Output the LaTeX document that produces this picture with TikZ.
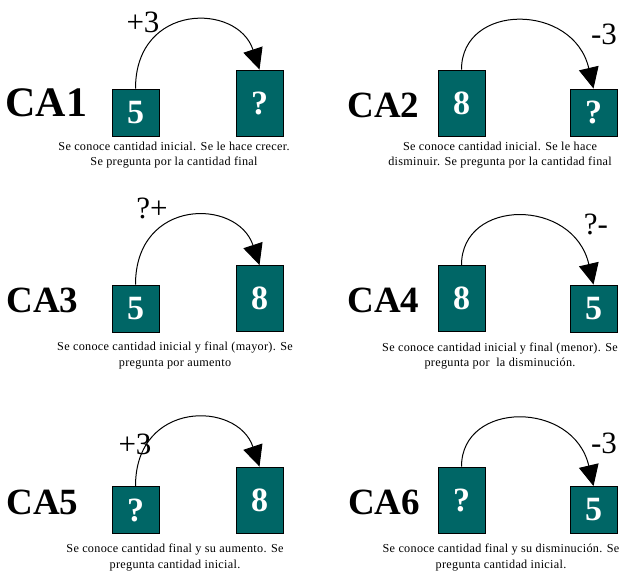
\documentclass[tikz,border=0pt]{standalone}
\usepackage{fontspec}
\setmainfont{Liberation Serif}
\newfontfamily\capfont[LetterSpace=2.5]{Liberation Serif}
\usetikzlibrary{arrows.meta,calc}
\definecolor{teal1}{RGB}{0,102,102}
\tikzset{
  sq/.style={draw=black, line width=0.9pt, fill=teal1, inner sep=0pt, minimum width=47pt, minimum height=47pt,
    text=white, font=\fontsize{34}{34}\selectfont\bfseries},
  tall/.style={sq, minimum height=66pt},
  calabel/.style={font=\fontsize{37}{37}\selectfont\bfseries, inner sep=0pt},
  oplabel/.style={font=\fontsize{31}{31}\selectfont, inner sep=0pt},
  caption/.style={font=\capfont\fontsize{12.2}{15.5}\selectfont, align=center, inner sep=0pt},
  jump/.style={line width=1pt, -{Triangle[length=21pt,width=20pt]}}
}
\begin{document}
\begin{tikzpicture}[x=1pt,y=-1pt]
\useasboundingbox (0,0) rectangle (621,571);
% CA1
\node[calabel, font=\fontsize{42}{42}\selectfont\bfseries] (l1) at (46.5,103) {CA1};
\node[sq] (a1) at (135.5,112.5) {5};
\node[tall] (b1) at (259.5,103) {?};
\node[oplabel] (o1) at (143,22) {+3};
\draw[jump] (a1.north) .. controls ($(a1.north)+(0,-86)$) and ($(b1.north)+(-22,-67)$) .. (b1.north);
\node[caption] (c1) at (174,155) {Se conoce cantidad inicial. Se le hace crecer.\\Se pregunta por la cantidad final};
% CA2
\node[calabel] (l2) at (383.5,105.5) {CA2};
\node[tall] (a2) at (461.5,103) {8};
\node[sq] (b2) at (593.5,112.5) {?};
\node[oplabel] (o2) at (604,34) {-3};
\draw[jump] (a2.north) .. controls ($(a2.north)+(0,-67)$) and ($(b2.north)+(-20,-86)$) .. (b2.north);
\node[caption] (c2) at (500,155) {Se conoce cantidad inicial. Se le hace\\disminuir. Se pregunta por la cantidad final};
% CA3
\node[calabel] (l3) at (42.5,300) {CA3};
\node[sq] (a3) at (135.5,308.5) {5};
\node[tall] (b3) at (259.5,298.5) {8};
\node[oplabel] (o3) at (152,208) {?+};
\draw[jump] (a3.north) .. controls ($(a3.north)+(0,-87)$) and ($(b3.north)+(-22,-67)$) .. (b3.north);
\node[caption] (c3) at (175,355.5) {Se conoce cantidad inicial y final (mayor). Se\\pregunta por aumento};
% CA4
\node[calabel] (l4) at (383.5,300.5) {CA4};
\node[tall] (a4) at (461.5,298.5) {8};
\node[sq] (b4) at (593.5,308.5) {5};
\node[oplabel] (o4) at (596,224) {?-};
\draw[jump] (a4.north) .. controls ($(a4.north)+(0,-67)$) and ($(b4.north)+(-20,-87)$) .. (b4.north);
\node[caption] (c4) at (500,356) {Se conoce cantidad inicial y final (menor). Se\\pregunta por\ \ la disminución.};
% CA5
\node[calabel] (l5) at (42.5,502.5) {CA5};
\node[sq] (a5) at (135.5,510) {?};
\node[tall] (b5) at (259.5,500) {8};
\node[oplabel] (o5) at (135,444) {+3};
\draw[jump] (a5.north) .. controls ($(a5.north)+(0,-86)$) and ($(b5.north)+(-22,-66)$) .. (b5.north);
\node[caption] (c5) at (175,557.5) {Se conoce cantidad final y su aumento. Se\\pregunta cantidad inicial.};
% CA6
\node[calabel] (l6) at (384,502.5) {CA6};
\node[tall] (a6) at (461.5,500) {?};
\node[sq] (b6) at (593.5,510) {5};
\node[oplabel] (o6) at (604,443) {-3};
\draw[jump] (a6.north) .. controls ($(a6.north)+(0,-66)$) and ($(b6.north)+(-20,-86)$) .. (b6.north);
\node[caption] (c6) at (501,557.5) {Se conoce cantidad final y su disminución. Se\\pregunta cantidad inicial.};
\end{tikzpicture}
\end{document}
